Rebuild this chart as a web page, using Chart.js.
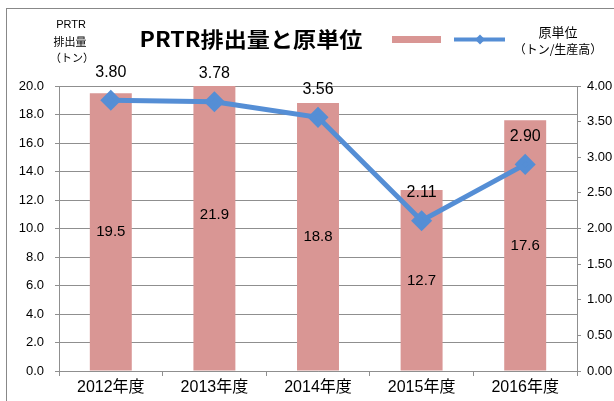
<!DOCTYPE html>
<html>
<head>
<meta charset="utf-8">
<script src="https://cdn.jsdelivr.net/npm/chart.js@4/dist/chart.umd.min.js"></script>
<style>
  html, body { margin: 0; padding: 0; background: #fff; }
  #wrap { width: 614px; height: 401px; position: relative; }
</style>
</head>
<body>
<div id="wrap"><canvas id="prtrChart"></canvas></div>
<script>
// ----------------------------------------------------
const categories = [ '2012年度', '2013年度', '2014年度', '2015年度', '2016年度' ];
const emissions = [ 19.5, 21.9, 18.8, 12.7, 17.6 ];      // PRTR排出量（トン）
const intensity = [ 3.80, 3.78, 3.56, 2.11, 2.90 ];      // 原単位（トン/生産高）
const leftTicks = [ 0, 20, 2 ];      // min, max, step
const rightTicks = [ 0, 4, 0.5 ];
// ----------------------------------------------------
const BAR = '#D99694';
const LINE = '#558ED5';
const GRID = '#8f8f8f';
const LATIN = '"Liberation Sans", Arial, "Noto Sans CJK JP", sans-serif';
const CJK = '"Noto Sans CJK JP", "Liberation Sans", sans-serif';

// labels, title, legend
const decor = {
    id: 'decor',
    beforeDraw( chart ) {
        const c = chart.ctx;
        c.save();
        c.fillStyle = '#fff';
        c.fillRect( 0, 0, chart.width, chart.height );
        c.restore();
    },
    afterDatasetsDraw( chart ) {
        const c = chart.ctx;
        const y = chart.scales.y, y1 = chart.scales.y1;
        c.save();
        c.fillStyle = '#000';
        c.textAlign = 'center';
        c.textBaseline = 'middle';
        c.font = '15px ' + LATIN;
        chart.getDatasetMeta( 1 ).data.forEach( ( bar, i ) => {
            const mid = ( y.getPixelForValue( emissions[ i ] ) + y.getPixelForValue( 0 ) ) / 2;
            c.fillText( emissions[ i ].toFixed( 1 ), bar.x, mid );
        });
        c.font = '16px ' + LATIN;
        chart.getDatasetMeta( 0 ).data.forEach( ( pt, i ) => {
            c.fillText( intensity[ i ].toFixed( 2 ), pt.x, y1.getPixelForValue( intensity[ i ] ) - 28 );
        });
        c.restore();
    },
    afterDraw( chart ) {
        const c = chart.ctx;
        c.save();
        // outer frame
        c.strokeStyle = '#888';
        c.lineWidth = 1;
        c.strokeRect( 6.5, 8.5, 700, 500 );
        // title
        c.fillStyle = '#000';
        c.textAlign = 'center';
        c.textBaseline = 'middle';
        c.font = 'bold 21px ' + CJK;
        const title = 'PRTR排出量と原単位';
        const w = c.measureText( title ).width;
        c.save();
        c.translate( 251, 39 );
        c.scale( 223 / w, 1 );
        c.fillText( title, 0, 0 );
        c.restore();
        // left axis title
        c.font = '11px ' + LATIN;
        c.fillText( 'PRTR', 71, 25 );
        c.font = '11px ' + CJK;
        c.fillText( '排出量', 70, 42 );
        c.fillText( '（トン）', 72, 58 );
        // legend
        c.fillStyle = BAR;
        c.fillRect( 392, 36, 49, 7 );
        c.strokeStyle = LINE;
        c.lineWidth = 4;
        c.beginPath();
        c.moveTo( 454, 39.5 );
        c.lineTo( 505, 39.5 );
        c.stroke();
        c.fillStyle = LINE;
        c.beginPath();
        c.moveTo( 480, 34.5 ); c.lineTo( 485, 39.5 ); c.lineTo( 480, 44.5 ); c.lineTo( 475, 39.5 );
        c.closePath();
        c.fill();
        c.fillStyle = '#000';
        c.font = '13px ' + CJK;
        c.fillText( '原単位', 558, 32 );
        c.font = '12px ' + CJK;
        c.fillText( '（トン/生産高）', 558, 49 );
        c.restore();
    }
};
//
const chart = new Chart( document.getElementById( 'prtrChart' ), {
    type: 'bar',
    data: {
        labels: categories,
        datasets: [
            {
                type: 'line',
                label: '原単位（トン/生産高）',
                data: intensity,
                yAxisID: 'y1',
                borderColor: LINE,
                backgroundColor: LINE,
                borderWidth: 5,
                pointStyle: 'rectRot',
                pointRadius: 7,
                pointHoverRadius: 7,
                tension: 0,
                order: 0
            },
            {
                type: 'bar',
                label: 'PRTR排出量（トン）',
                data: emissions,
                yAxisID: 'y',
                backgroundColor: BAR,
                borderWidth: 0,
                categoryPercentage: 1,
                barPercentage: 0.405,
                order: 1
            }
        ]
    },
    options: {
        responsive: true,
        maintainAspectRatio: false,
        animation: false,
        events: [],
        layout: { padding: { top: 86, left: 0, right: 0, bottom: 0 } },
        plugins: {
            legend: { display: false },
            title: { display: false },
            tooltip: { enabled: false }
        },
        scales: {
            x: {
                offset: true,
                grid: { drawOnChartArea: false, offset: true, tickLength: 5, color: GRID },
                border: { color: GRID },
                ticks: { color: '#000', padding: 2, font: { size: 16, family: LATIN } },
                afterFit: s => { s.height = 30; }
            },
            y: {
                position: 'left',
                min: leftTicks[ 0 ],
                max: leftTicks[ 1 ],
                grid: { color: GRID, tickLength: 4 },
                border: { color: GRID },
                ticks: {
                    stepSize: leftTicks[ 2 ],
                    color: '#000',
                    padding: 11,
                    font: { size: 13, family: LATIN },
                    callback: v => Number( v ).toFixed( 1 )
                },
                afterFit: s => { s.width = 59; }
            },
            y1: {
                position: 'right',
                min: rightTicks[ 0 ],
                max: rightTicks[ 1 ],
                grid: { drawOnChartArea: false, color: GRID, tickLength: 4 },
                border: { color: GRID },
                ticks: {
                    stepSize: rightTicks[ 2 ],
                    color: '#000',
                    padding: 6,
                    font: { size: 13, family: LATIN },
                    callback: v => Number( v ).toFixed( 2 )
                },
                afterFit: s => { s.width = 37; }
            }
        }
    },
    plugins: [ decor ]
});
</script>
</body>
</html>
